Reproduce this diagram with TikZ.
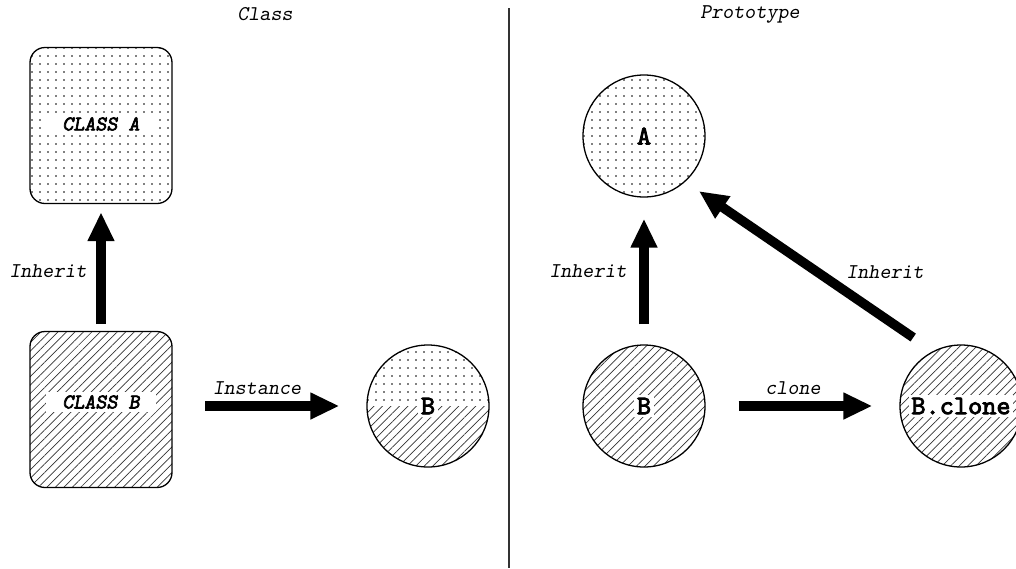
\documentclass[tikz,border=0pt]{standalone}
\usepackage{fontspec}
\newfontfamily\notefont{lmmonoslant10-regular.otf}
\newfontfamily\boxfont[FakeBold=3]{lmmonoslant10-regular.otf}
\newfontfamily\objfont[FakeBold=3]{lmmono10-regular.otf}
\usetikzlibrary{arrows.meta,patterns.meta}

\begin{document}
\begin{tikzpicture}[x=1pt,y=-1pt]
    \tikzset{dotfill/.style={pattern={Dots[distance=8pt,radius=0.85pt]},pattern color=black}}
    \tikzset{hatchfill/.style={pattern={Lines[angle=45,distance=6pt,line width=0.7pt]},pattern color=black!80}}
    \tikzset{classbox/.style={draw,line width=1.3pt,rounded corners=15pt,minimum width=142pt,minimum height=156pt}}
    \tikzset{obj/.style={draw,line width=1.3pt,circle,minimum size=122pt,inner sep=0pt}}
    \tikzset{boxlabel/.style={fill=white,inner xsep=16pt,inner ysep=3pt,font=\fontsize{21}{23}\boxfont}}
    \tikzset{objlabel/.style={fill=white,inner sep=2.5pt,font=\fontsize{27}{29}\objfont}}
    \tikzset{note/.style={font=\fontsize{21}{23}\notefont}}
    \tikzset{bigarrow/.style={line width=9.5pt,-{Triangle[width=25pt,length=29pt]}}}
    \useasboundingbox (0,0) rectangle (1016,568);
    % titles and divider
    \node[note] (classtitle) at (265,14) {Class};
    \node[note] (prototitle) at (750,14) {Prototype};
    \coordinate (divtop) at (509,8);
    \coordinate (divbot) at (509,568);
    \draw[line width=1.3pt, black!80] (divtop) -- (divbot);
    % class side
    \node[classbox, dotfill] (classA) at (101,125.5) {};
    \node[classbox, hatchfill] (classB) at (101,409.5) {};
    \node[boxlabel] (classAlabel) at (101,124) {CLASS A};
    \node[boxlabel] (classBlabel) at (101,402) {CLASS B};
    \begin{scope}
        \clip (428,406) circle[radius=61];
        \path[dotfill] (367,345) rectangle (489,406);
        \path[hatchfill] (367,406) rectangle (489,467);
    \end{scope}
    \node[obj] (b) at (428,406) {};
    \node[objlabel] (blabel) at (b) {B};
    \draw[bigarrow, shorten <=7pt, shorten >=8pt] (classB) -- (classA);
    \draw[bigarrow, shorten <=33pt, shorten >=27pt] (b -| classB.east) -- (b.west);
    \node[note] (inheritA) at (48,271) {Inherit};
    \node[note] (instance) at (257,388) {Instance};
    % prototype side
    \node[obj, dotfill] (a) at (644,136) {};
    \node[obj, hatchfill] (bp) at (644,406) {};
    \node[obj, hatchfill] (bclone) at (961,406) {};
    \node[objlabel] (alabel) at (a) {A};
    \node[objlabel] (bplabel) at (bp) {B};
    \node[objlabel] (bclonelabel) at (bclone) {B.clone};
    \draw[bigarrow, shorten <=20pt, shorten >=21pt] (bp) -- (a);
    \draw[bigarrow, shorten <=33pt, shorten >=27pt] (bp) -- (bclone);
    \draw[bigarrow, shorten <=24pt, shorten >=16.5pt] (bclone.117) -- (a.-48.5);
    \node[note] (inheritB) at (588,271) {Inherit};
    \node[note] (inheritC) at (885,272) {Inherit};
    \node[note] (clone) at (793,388) {clone};
\end{tikzpicture}
\end{document}
